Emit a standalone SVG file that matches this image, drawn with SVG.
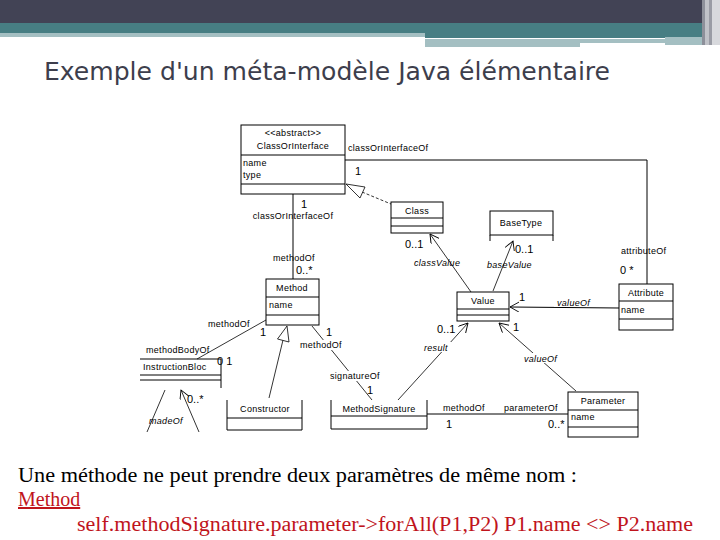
<svg xmlns="http://www.w3.org/2000/svg" width="720" height="540" viewBox="0 0 720 540">
<style>
.box{fill:#fff;stroke:#000;stroke-width:1}
.ln{fill:none;stroke:#000;stroke-width:1}
.th{fill:none;stroke:#000;stroke-width:0.8}
.t{font-family:"Liberation Sans",Arial,sans-serif;font-size:9px;fill:#000;letter-spacing:0.3px}
.i{font-style:italic}
.m{text-anchor:middle}
.n{font-family:"Liberation Sans",Arial,sans-serif;font-size:11px;fill:#000}
</style>
<defs>
<marker id="open" markerUnits="userSpaceOnUse" markerWidth="12" markerHeight="12" refX="9" refY="5" orient="auto">
<path d="M0,0 L9,5 L0,10" fill="none" stroke="#000" stroke-width="0.9"/>
</marker>
</defs>
<rect width="720" height="540" fill="#fff"/>
<g id="header">
<rect x="0" y="0" width="720" height="23" fill="#424355"/>
<rect x="0" y="23" width="720" height="10" fill="#477e83"/>
<rect x="0" y="33" width="425" height="4" fill="#a4bfc2"/>
<rect x="425" y="33" width="295" height="5" fill="#477e83"/>
<rect x="425" y="39" width="240" height="4" fill="#a4bfc2"/>
<rect x="425" y="43" width="155" height="4" fill="#a4bfc2"/>
<rect x="665" y="37" width="40" height="8" fill="#a4bfc2"/>
<rect x="702" y="0" width="3" height="45" fill="#8d909a"/>
<rect x="705" y="0" width="4" height="45" fill="#c0c2c8"/>
<rect x="709" y="0" width="3" height="45" fill="#9a9ca5"/>
<rect x="712" y="0" width="8" height="45" fill="#d8d9dd"/>
</g>
<text x="44" y="80" font-family="'DejaVu Sans Condensed','Liberation Sans',sans-serif" font-size="24" fill="#3d3e4c" textLength="566" lengthAdjust="spacingAndGlyphs">Exemple d'un méta-modèle Java élémentaire</text>

<g id="connectors">
<!-- ClassOrInterface - Attribute -->
<polyline class="ln" points="345,160 647,160 647,284"/>
<text class="t" x="348" y="151">classOrInterfaceOf</text>
<text class="n" x="355" y="175">1</text>
<text class="t" x="621" y="254">attributeOf</text>
<text class="n" x="620" y="274">0 *</text>
<!-- Class generalization -->
<line class="th" x1="362" y1="192" x2="391" y2="204" stroke-dasharray="3,2"/>
<polygon points="346,184 365,187 360,198" fill="#fff" stroke="#000" stroke-width="0.8"/>
<!-- ClassOrInterface - Method -->
<line class="ln" x1="293" y1="194" x2="293" y2="279"/>
<text class="n" x="301" y="208">1</text>
<text class="t m" x="293" y="219">classOrInterfaceOf</text>
<text class="t" x="273" y="261">methodOf</text>
<text class="n" x="296" y="274">0..*</text>
<!-- classValue -->
<line class="th" x1="471" y1="292" x2="430" y2="234" marker-end="url(#open)"/>
<text class="n" x="405" y="248">0..1</text>
<text class="t i" x="414" y="266" fill="#000">classValue</text>
<!-- baseValue -->
<line class="th" x1="493" y1="291" x2="513" y2="241" marker-end="url(#open)"/>
<text class="n" x="515" y="253">0..1</text>
<text class="t i" x="487" y="268">baseValue</text>
<!-- Attribute valueOf -->
<line class="ln" x1="619" y1="308" x2="510" y2="307" marker-end="url(#open)"/>
<rect x="554" y="297" width="42" height="10" fill="#fff"/>
<text class="t i" x="557" y="306">valueOf</text>
<text class="n" x="519" y="301">1</text>
<!-- Parameter valueOf -->
<line class="th" x1="576" y1="391" x2="499" y2="323" marker-end="url(#open)"/>
<rect x="523" y="353" width="40" height="10" fill="#fff"/>
<text class="t i" x="524" y="362">valueOf</text>
<text class="n" x="513" y="331">1</text>
<!-- result -->
<line class="th" x1="398" y1="400" x2="468" y2="323" marker-end="url(#open)"/>
<rect x="423" y="342" width="30" height="10" fill="#fff"/>
<text class="t i" x="424" y="351">result</text>
<text class="n" x="437" y="333">0..1</text>
<!-- Method - InstructionBloc -->
<line class="th" x1="266" y1="320" x2="197" y2="359"/>
<text class="t" x="208" y="327">methodOf</text>
<text class="n" x="260" y="336">1</text>
<text class="t" x="146" y="353">methodBodyOf</text>
<text class="n" x="217" y="365">0 1</text>
<!-- Constructor generalization -->
<line class="th" x1="283" y1="340" x2="269" y2="398"/>
<polygon points="287,326 277.5,339 289,342" fill="#fff" stroke="#000" stroke-width="0.8"/>
<!-- Method - MethodSignature -->
<line class="th" x1="312" y1="326" x2="372" y2="400"/>
<text class="n" x="326" y="336">1</text>
<rect x="299" y="340" width="48" height="10" fill="#fff"/>
<text class="t" x="300" y="348">methodOf</text>
<rect x="329" y="371" width="54" height="10" fill="#fff"/>
<text class="t" x="330" y="379">signatureOf</text>
<text class="n" x="367" y="394">1</text>
<!-- MethodSignature - Parameter -->
<line class="ln" x1="427" y1="414" x2="568" y2="414"/>
<text class="t" x="443" y="411">methodOf</text>
<text class="t" x="504" y="411">parameterOf</text>
<text class="n" x="446" y="428">1</text>
<text class="n" x="548" y="428">0..*</text>
<!-- madeOf -->
<line class="th" x1="165" y1="390" x2="147" y2="432"/>
<line class="th" x1="199" y1="432" x2="181" y2="390" marker-end="url(#open)"/>
<text class="t i" x="149" y="424">madeOf</text>
<text class="n" x="187" y="403">0..*</text>
</g>

<g id="ClassOrInterface">
<rect class="box" x="241" y="125" width="104" height="69"/>
<line class="ln" x1="241" y1="155" x2="345" y2="155"/>
<line class="ln" x1="241" y1="184" x2="345" y2="184"/>
<text class="t m" x="293" y="136">&lt;&lt;abstract&gt;&gt;</text>
<text class="t m" x="293" y="149">ClassOrInterface</text>
<text class="t" x="243" y="166">name</text>
<text class="t" x="243" y="178">type</text>
</g>
<g id="Class">
<rect class="box" x="391" y="202" width="52" height="31"/>
<line class="ln" x1="391" y1="218" x2="443" y2="218"/>
<line class="ln" x1="391" y1="226" x2="443" y2="226"/>
<text class="t m" x="417" y="214">Class</text>
</g>
<g id="BaseType">
<rect class="box" x="490" y="211" width="63" height="24"/>
<line class="ln" x1="490" y1="235" x2="490" y2="241"/>
<line class="ln" x1="553" y1="235" x2="553" y2="241"/>
<text class="t m" x="521" y="226">BaseType</text>
</g>
<g id="Attribute">
<rect class="box" x="619" y="284" width="54" height="46"/>
<line class="ln" x1="619" y1="301" x2="673" y2="301"/>
<line class="ln" x1="619" y1="319" x2="673" y2="319"/>
<text class="t m" x="646" y="296">Attribute</text>
<text class="t" x="621" y="313">name</text>
</g>
<g id="Value">
<rect class="box" x="457" y="292" width="52" height="29"/>
<line class="ln" x1="457" y1="309" x2="509" y2="309"/>
<line class="ln" x1="457" y1="315" x2="509" y2="315"/>
<text class="t m" x="483" y="304">Value</text>
</g>
<g id="Method">
<rect class="box" x="266" y="279" width="53" height="46"/>
<line class="ln" x1="266" y1="297" x2="319" y2="297"/>
<line class="ln" x1="266" y1="315" x2="319" y2="315"/>
<text class="t m" x="292" y="291">Method</text>
<text class="t" x="269" y="308">name</text>
</g>
<g id="InstructionBloc">
<line class="ln" x1="140" y1="359" x2="221" y2="359"/>
<line class="ln" x1="140" y1="375" x2="221" y2="375"/>
<line class="ln" x1="140" y1="380" x2="221" y2="380"/>
<line class="ln" x1="221" y1="359" x2="221" y2="388"/>
<text class="t" x="143" y="370">InstructionBloc</text>
</g>
<g id="Constructor">
<polyline class="ln" points="227,400 227,430 302,430 302,400"/>
<line class="ln" x1="227" y1="418" x2="302" y2="418"/>
<text class="t m" x="265" y="412">Constructor</text>
</g>
<g id="MethodSignature">
<polyline class="ln" points="331,400 331,429 427,429 427,400"/>
<line class="ln" x1="331" y1="416" x2="427" y2="416"/>
<text class="t m" x="379" y="412">MethodSignature</text>
</g>
<g id="Parameter">
<rect class="box" x="568" y="392" width="70" height="45"/>
<line class="ln" x1="568" y1="410" x2="638" y2="410"/>
<line class="ln" x1="568" y1="427" x2="638" y2="427"/>
<text class="t m" x="603" y="404">Parameter</text>
<text class="t" x="571" y="420">name</text>
</g>

<g id="footer" font-family="'Liberation Serif','Times New Roman',serif" font-size="20">
<text x="18" y="482" fill="#000" textLength="559" lengthAdjust="spacingAndGlyphs">Une méthode ne peut prendre deux paramètres de même nom :</text>
<text x="18" y="506" fill="#c0141c" text-decoration="underline">Method</text>
<text x="77" y="531" fill="#c0141c" textLength="616" lengthAdjust="spacingAndGlyphs">self.methodSignature.parameter-&gt;forAll(P1,P2) P1.name &lt;&gt; P2.name</text>
</g>
</svg>
